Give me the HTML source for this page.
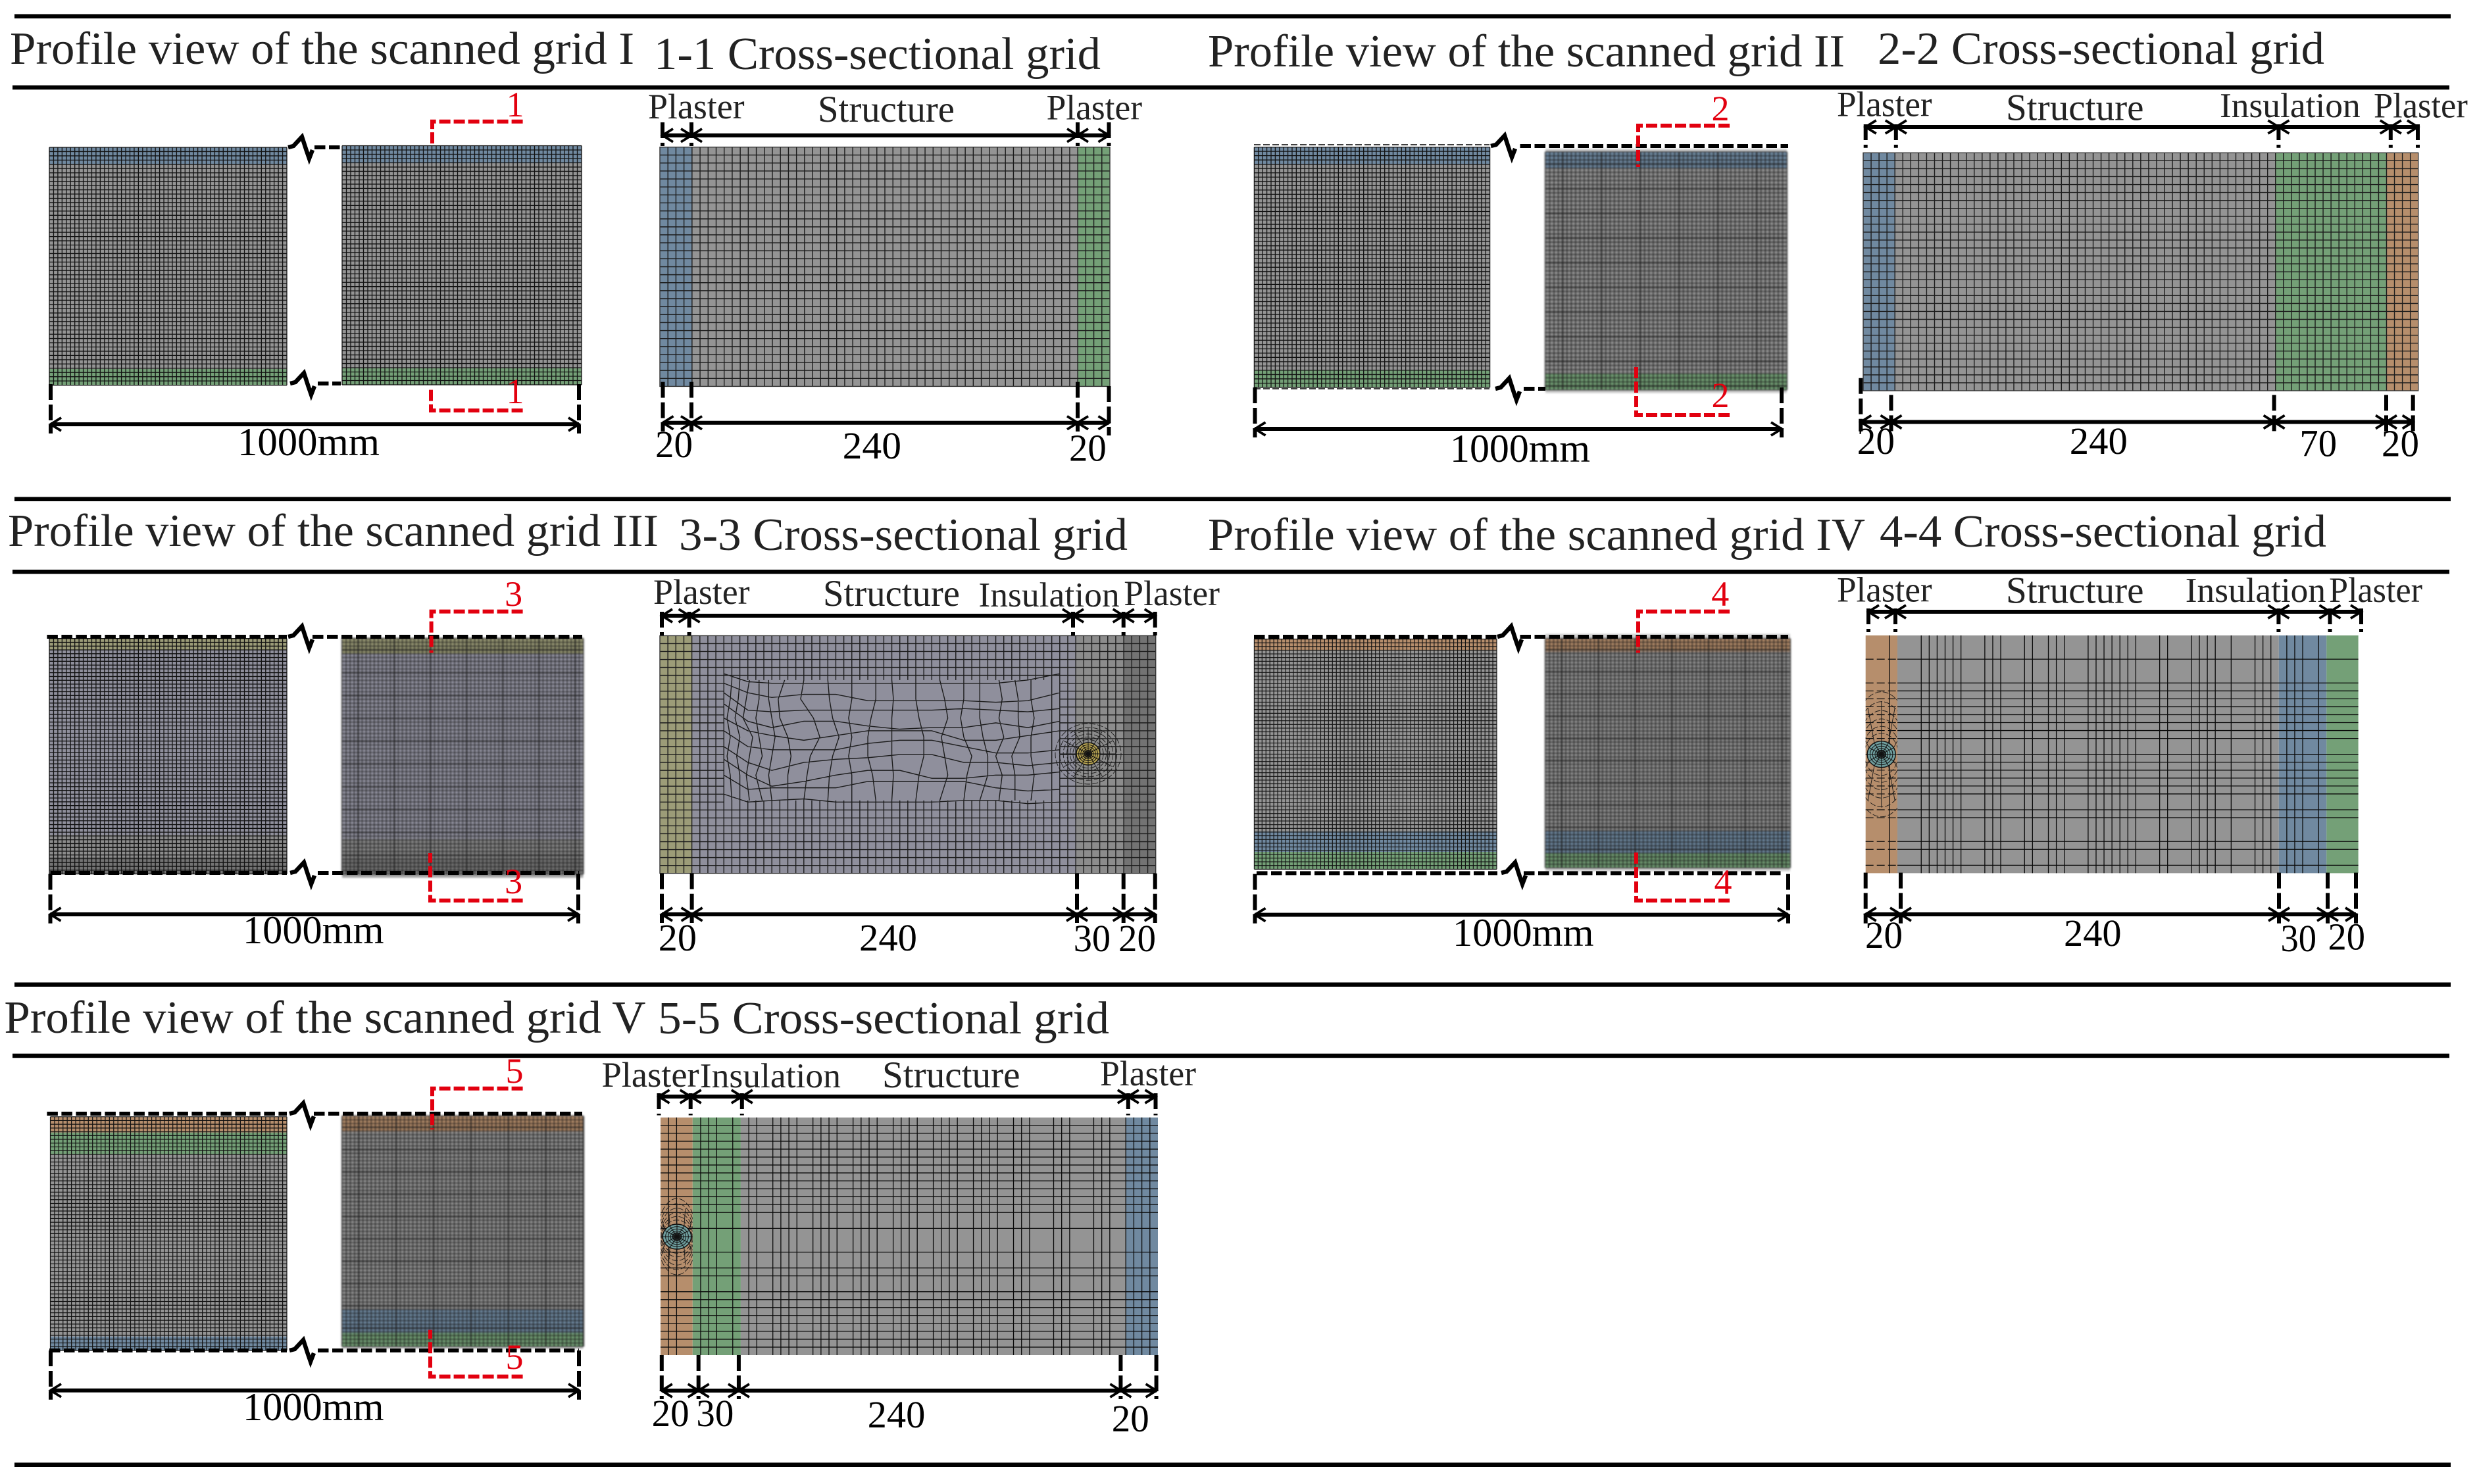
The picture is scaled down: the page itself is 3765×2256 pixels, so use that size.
<!DOCTYPE html>
<html lang="en">
<head>
<meta charset="utf-8">
<title>Scanned grid profile views and cross-sectional grids</title>
<style>
html,body{margin:0;padding:0;background:#fff;}
svg{display:block;}
.t{font-family:"Liberation Serif",serif;fill:#222;}
.n{font-family:"Liberation Serif",serif;fill:#000;}
.r{font-family:"Liberation Serif",serif;fill:#e2000f;text-anchor:middle;font-size:54px;}
</style>
</head>
<body>
<svg id="figure" width="3765" height="2256" viewBox="0 0 3765 2256">
<defs>
<filter id="soft" x="-5%" y="-5%" width="110%" height="110%"><feGaussianBlur stdDeviation="1.3"/></filter>
</defs>
<rect x="0" y="0" width="3765" height="2256" fill="#fff"/>
<g id="meshes"></g>
<g id="annotations"></g>

<g fill="#000">
<rect x="22" y="21.5" width="3703" height="6.5"/>
<rect x="19" y="129.7" width="3704" height="6.5"/>
<rect x="22" y="755.5" width="3703" height="6.5"/>
<rect x="19" y="866" width="3704" height="6.5"/>
<rect x="22" y="1493.5" width="3703" height="6.5"/>
<rect x="19" y="1601.7" width="3704" height="6.5"/>
<rect x="22" y="2223.5" width="3703" height="6.5"/>
</g>

<g font-size="70">
<text class="t" x="15" y="97" textLength="949" lengthAdjust="spacingAndGlyphs">Profile view of the scanned grid I</text>
<text class="t" x="994" y="105" textLength="679" lengthAdjust="spacingAndGlyphs">1-1 Cross-sectional grid</text>
<text class="t" x="1836" y="101" textLength="968" lengthAdjust="spacingAndGlyphs">Profile view of the scanned grid II</text>
<text class="t" x="2854" y="97" textLength="679" lengthAdjust="spacingAndGlyphs">2-2 Cross-sectional grid</text>
<text class="t" x="12" y="830" textLength="989" lengthAdjust="spacingAndGlyphs">Profile view of the scanned grid III</text>
<text class="t" x="1032" y="836" textLength="682" lengthAdjust="spacingAndGlyphs">3-3 Cross-sectional grid</text>
<text class="t" x="1836" y="836" textLength="999" lengthAdjust="spacingAndGlyphs">Profile view of the scanned grid IV</text>
<text class="t" x="2857" y="831" textLength="679" lengthAdjust="spacingAndGlyphs">4-4 Cross-sectional grid</text>
<text class="t" x="6.4" y="1570" textLength="975" lengthAdjust="spacingAndGlyphs">Profile view of the scanned grid V</text>
<text class="t" x="1000" y="1571" textLength="686" lengthAdjust="spacingAndGlyphs">5-5 Cross-sectional grid</text>
</g>

<g>
<text class="t" font-size="54" x="985" y="180" textLength="146.6" lengthAdjust="spacingAndGlyphs">Plaster</text>
<text class="t" font-size="57" x="1243" y="185" textLength="208" lengthAdjust="spacingAndGlyphs">Structure</text>
<text class="t" font-size="54" x="1590.6" y="181.7" textLength="145.4" lengthAdjust="spacingAndGlyphs">Plaster</text>

<text class="t" font-size="54" x="2792" y="176.5" textLength="144.6" lengthAdjust="spacingAndGlyphs">Plaster</text>
<text class="t" font-size="57" x="3049" y="182.5" textLength="209.5" lengthAdjust="spacingAndGlyphs">Structure</text>
<text class="t" font-size="53" x="3374" y="178" textLength="213.7" lengthAdjust="spacingAndGlyphs">Insulation</text>
<text class="t" font-size="54" x="3608" y="178.5" textLength="142.8" lengthAdjust="spacingAndGlyphs">Plaster</text>

<text class="t" font-size="54" x="993" y="918" textLength="146.6" lengthAdjust="spacingAndGlyphs">Plaster</text>
<text class="t" font-size="57" x="1251" y="921" textLength="208" lengthAdjust="spacingAndGlyphs">Structure</text>
<text class="t" font-size="53" x="1487.4" y="922" textLength="214.3" lengthAdjust="spacingAndGlyphs">Insulation</text>
<text class="t" font-size="54" x="1708.3" y="920" textLength="145.7" lengthAdjust="spacingAndGlyphs">Plaster</text>

<text class="t" font-size="54" x="2792" y="914.6" textLength="144.6" lengthAdjust="spacingAndGlyphs">Plaster</text>
<text class="t" font-size="57" x="3049" y="916.5" textLength="209.5" lengthAdjust="spacingAndGlyphs">Structure</text>
<text class="t" font-size="53" x="3321.8" y="915" textLength="213.2" lengthAdjust="spacingAndGlyphs">Insulation</text>
<text class="t" font-size="54" x="3540" y="915" textLength="142" lengthAdjust="spacingAndGlyphs">Plaster</text>

<text class="t" font-size="54" x="914.5" y="1651.8" textLength="148.2" lengthAdjust="spacingAndGlyphs">Plaster</text>
<text class="t" font-size="53" x="1063.8" y="1653" textLength="214.2" lengthAdjust="spacingAndGlyphs">Insulation</text>
<text class="t" font-size="57" x="1341" y="1653" textLength="209.5" lengthAdjust="spacingAndGlyphs">Structure</text>
<text class="t" font-size="54" x="1672" y="1650" textLength="146" lengthAdjust="spacingAndGlyphs">Plaster</text>
</g>

<g font-size="58">
<text class="n" font-size="60" x="361" y="692" textLength="216" lengthAdjust="spacingAndGlyphs">1000mm</text>
<text class="n" font-size="60" x="2204" y="702" textLength="213" lengthAdjust="spacingAndGlyphs">1000mm</text>
<text class="n" font-size="60" x="369" y="1434" textLength="214.5" lengthAdjust="spacingAndGlyphs">1000mm</text>
<text class="n" font-size="60" x="2208" y="1438" textLength="214.5" lengthAdjust="spacingAndGlyphs">1000mm</text>
<text class="n" font-size="60" x="369" y="2159" textLength="214.5" lengthAdjust="spacingAndGlyphs">1000mm</text>

<text class="n" x="996" y="695" textLength="57" lengthAdjust="spacingAndGlyphs">20</text>
<text class="n" x="1280.6" y="697" textLength="89.4" lengthAdjust="spacingAndGlyphs">240</text>
<text class="n" x="1625" y="700.5" textLength="56.7" lengthAdjust="spacingAndGlyphs">20</text>

<text class="n" x="2822.8" y="690" textLength="57.2" lengthAdjust="spacingAndGlyphs">20</text>
<text class="n" x="3145.8" y="690" textLength="88" lengthAdjust="spacingAndGlyphs">240</text>
<text class="n" x="3495.4" y="693.4" textLength="56.6" lengthAdjust="spacingAndGlyphs">70</text>
<text class="n" x="3620" y="693.4" textLength="57" lengthAdjust="spacingAndGlyphs">20</text>

<text class="n" x="1000.8" y="1444.8" textLength="58.2" lengthAdjust="spacingAndGlyphs">20</text>
<text class="n" x="1306" y="1444.8" textLength="88" lengthAdjust="spacingAndGlyphs">240</text>
<text class="n" x="1631.7" y="1446" textLength="56.3" lengthAdjust="spacingAndGlyphs">30</text>
<text class="n" x="1700" y="1446" textLength="57" lengthAdjust="spacingAndGlyphs">20</text>

<text class="n" x="2835" y="1441" textLength="57" lengthAdjust="spacingAndGlyphs">20</text>
<text class="n" x="3137" y="1438" textLength="87.6" lengthAdjust="spacingAndGlyphs">240</text>
<text class="n" x="3466.5" y="1446" textLength="54.5" lengthAdjust="spacingAndGlyphs">30</text>
<text class="n" x="3538.5" y="1443.6" textLength="56.5" lengthAdjust="spacingAndGlyphs">20</text>

<text class="n" x="990.6" y="2168" textLength="57" lengthAdjust="spacingAndGlyphs">20</text>
<text class="n" x="1058.4" y="2168" textLength="56.9" lengthAdjust="spacingAndGlyphs">30</text>
<text class="n" x="1318.6" y="2170" textLength="87.8" lengthAdjust="spacingAndGlyphs">240</text>
<text class="n" x="1689.8" y="2176" textLength="57" lengthAdjust="spacingAndGlyphs">20</text>
</g>

<g>
<text class="r" x="783" y="177">1</text>
<text class="r" x="783" y="613">1</text>
<text class="r" x="2615" y="183">2</text>
<text class="r" x="2615" y="619">2</text>
<text class="r" x="780.6" y="921">3</text>
<text class="r" x="780.6" y="1358">3</text>
<text class="r" x="2614.8" y="921">4</text>
<text class="r" x="2619" y="1359">4</text>
<text class="r" x="782" y="1646">5</text>
<text class="r" x="782" y="2081">5</text>
</g>
</svg>

<script>
/* Material colours */
const BLUE = '#7089a0';
const GREEN = '#74a077';
const BROWN = '#b68e6c';
const GREY = '#949494';
const OLIVE = '#9c9c78';
const PURPLE = '#8f8f9c';
const DARKGREY = '#737373';
const MIDGREY = '#8c8c8c';
const LIGHT = '#cfcfcf';

/* Cross-section layer thicknesses in mm */
const sec1Thick = [20, 240, 20];
const sec2Thick = [20, 240, 70, 20];
const sec3Thick = [20, 240, 30, 20];
const sec4Thick = [20, 240, 30, 20];
const sec5Thick = [20, 30, 240, 20];

/* Mesh line stations in mm, section 4-4 */
const sec4Cols = [15, 35, 40, 45, 50, 55, 60, 75, 80, 85, 100, 105, 115, 120, 125, 140, 145, 150, 155, 160, 165, 170, 185, 190, 205, 210, 215, 220, 230, 245, 250, 255, 265, 270, 275, 285];
const sec4Rows = [15, 30, 35, 40, 45, 50, 55, 60, 65, 75, 80, 85, 90, 95, 100, 110, 115, 130, 135, 145];

/* Mesh line stations in mm, section 5-5 */
const sec5Cols = [5, 10, 25, 30, 35, 45, 55, 60, 70, 75, 80, 85, 95, 100, 105, 110, 120, 125, 130, 135, 145, 150, 155, 160, 170, 175, 180, 185, 195, 200, 205, 210, 220, 225, 230, 245, 250, 255, 270, 275, 280, 290, 295, 300, 305];
const sec5Rows = [5, 10, 15, 20, 25, 30, 35, 40, 45, 50, 55, 60, 70, 85, 95, 100, 110, 115, 120, 125, 130, 135, 140, 145];

/* Free mesh of section 3-3: flowing row lines, mm depth at each station */
const flowStations = [40, 55, 70, 90, 110, 130, 150, 170, 190, 210, 230, 250];
const flowRowA = [24, 29, 30, 30, 30, 30, 30, 30, 30, 30, 28, 24];
const flowRowB = [30, 36, 39, 37, 37, 41, 41, 41, 41, 42, 41, 36];
const flowRowC = [36, 47, 48, 47, 47, 47, 47, 47, 46, 47, 48, 46];
const flowRowD = [43, 54, 58, 54, 54, 57, 59, 58, 58, 55, 58, 54];
const flowRowE = [52, 60, 63, 66, 63, 60, 60, 60, 66, 66, 63, 60];
const flowRowF = [60, 70, 72, 72, 72, 68, 66, 66, 70, 74, 74, 72];
const flowRowG = [70, 80, 85, 80, 78, 77, 75, 75, 80, 80, 82, 80];
const flowRowH = [78, 88, 95, 92, 88, 85, 85, 90, 90, 88, 88, 86];
const flowRowI = [88, 97, 96, 96, 96, 92, 92, 92, 92, 96, 98, 97];
const flowRowJ = [100, 105, 104, 103, 105, 105, 105, 105, 104, 104, 106, 105];
const flowRows = [flowRowA, flowRowB, flowRowC, flowRowD, flowRowE, flowRowF, flowRowG, flowRowH, flowRowI, flowRowJ];

/* Free mesh of section 3-3: flowing column lines, mm position at each depth */
const flowDepths = [28, 40, 52, 64, 76, 88, 104];
const flowCols = [
  [45, 44, 42, 44, 42, 44, 45], [50, 49, 47, 50, 48, 50, 50], [56, 54, 52, 58, 56, 54, 56],
  [62, 62, 60, 62, 64, 60, 64], [68, 68, 70, 72, 70, 68, 70], [78, 74, 75, 80, 82, 80, 80],
  [90, 88, 96, 100, 94, 92, 90], [105, 106, 108, 112, 108, 106, 105], [120, 120, 118, 120, 118, 120, 120],
  [135, 135, 132, 130, 130, 133, 135], [145, 146, 145, 145, 145, 146, 145], [160, 160, 162, 165, 165, 162, 160],
  [175, 178, 180, 176, 178, 180, 175], [190, 190, 188, 190, 195, 192, 190], [200, 200, 200, 202, 205, 205, 200],
  [212, 214, 212, 215, 210, 214, 212], [222, 224, 224, 225, 220, 222, 222], [232, 232, 234, 232, 232, 234, 232]
];

/* Profile block band proportions */
const prof1LeftBands = [26, 311, 24.6];
const prof1RightBands = [25.5, 313, 25];
const prof2LeftBands = [26.9, 312.5, 26];
const prof2RightBands = [4.7, 25.7, 312.4, 24.2, 4.6];
const prof3LeftBands = [17.8, 280.5, 34, 25.6];
const prof3RightBands = [23.7, 280.6, 30, 24, 5.5];
const prof4LeftBands = [17.8, 274.7, 31, 26.4];
const prof4RightBands = [7.1, 19.8, 272.8, 34.7, 21.5, 5.1];
const prof5LeftBands = [24.1, 33.7, 276.3, 21.2];
const prof5RightBands = [24.1, 270, 35.7, 20.8, 3.7];

/* Hole mesh rings, as fractions of the hole envelope */
const holeRings = [0.16, 0.3, 0.45, 0.62, 0.8, 1];
const holeSpokes = [0, 30, 60, 90, 120, 150, 180, 210, 240, 270, 300, 330];

const svg = document.getElementById('figure');
const NS = svg.namespaceURI;
const meshLayer = document.getElementById('meshes');
const annoLayer = document.getElementById('annotations');

function draw(parent, tag, name, attrs) {
  const el = document.createElementNS(NS, tag);
  for (const k in attrs) el.setAttribute(k, attrs[k]);
  
  
  parent.appendChild(el);
  return el;
}
function stations(from, to, step) {
  const out = [];
  for (let v = from; v <= to; v += step) out.push(v);
  return out;
}
function sectionScales(box, thick) {
  const total = thick.reduce((a, b) => a + b, 0);
  return {
    x: mm => box.x0 + mm * (box.x1 - box.x0) / total,
    y: mm => box.y0 + mm * (box.y1 - box.y0) / 150
  };
}
function section(name, box, thick, fills) {
  const s = sectionScales(box, thick);
  const g = draw(meshLayer, 'g', name, {});
  let at = 0;
  thick.forEach((t, i) => {
    draw(g, 'rect', name + '-layer', {x: s.x(at), y: box.y0, width: s.x(at + t) - s.x(at), height: box.y1 - box.y0, fill: fills[i]});
    at += t;
  });
  return {g, s, box};
}
function gridPath(sec, name, cols, rows, width, colour) {
  let d = '';
  cols.forEach(c => { d += 'M' + sec.s.x(c) + ' ' + sec.box.y0 + 'V' + sec.box.y1; });
  rows.forEach(r => { d += 'M' + sec.box.x0 + ' ' + sec.s.y(r) + 'H' + sec.box.x1; });
  draw(sec.g, 'path', name, {d, fill: 'none', stroke: colour, 'stroke-width': width});
}
function outline(sec, name, colour) {
  const b = sec.box;
  draw(sec.g, 'rect', name, {x: b.x0, y: b.y0, width: b.x1 - b.x0, height: b.y1 - b.y0, fill: 'none', stroke: colour, 'stroke-width': 1.4});
}
function holeMesh(parent, name, cx, cy, rx, ry, outerX, outerY, fill, clip) {
  const g = draw(parent, 'g', name, {});
  let cid = null;
  if (clip) {
    cid = name + '-clip';
    const cp = draw(g, 'clipPath', name + '-clip-shape', {id: cid});
    draw(cp, 'rect', name + '-clip-rect', {x: clip[0], y: clip[1], width: clip[2], height: clip[3]});
  }
  const env = draw(g, 'g', name + '-envelope', cid ? {'clip-path': 'url(#' + cid + ')'} : {});
  holeRings.forEach(f => {
    draw(env, 'ellipse', name + '-ring', {cx, cy, rx: rx + (outerX - rx) * f, ry: ry + (outerY - ry) * f, fill: 'none', stroke: '#1a1a1a', 'stroke-width': 0.9, 'stroke-dasharray': '9 3'});
  });
  holeSpokes.forEach(a => {
    const r = a * Math.PI / 180;
    draw(env, 'line', name + '-spoke', {x1: cx + rx * Math.cos(r), y1: cy + ry * Math.sin(r), x2: cx + outerX * 0.85 * Math.cos(r), y2: cy + outerY * 0.85 * Math.sin(r), stroke: '#1a1a1a', 'stroke-width': 0.9});
  });
  draw(g, 'ellipse', name + '-core', {cx, cy, rx, ry, fill, stroke: '#111', 'stroke-width': 1.4});
  holeRings.forEach(f => {
    draw(g, 'ellipse', name + '-core-ring', {cx, cy, rx: rx * f, ry: ry * f, fill: 'none', stroke: '#111', 'stroke-width': 1});
  });
  holeSpokes.forEach(a => {
    const r = a * Math.PI / 180;
    draw(g, 'line', name + '-core-spoke', {x1: cx, y1: cy, x2: cx + rx * Math.cos(r), y2: cy + ry * Math.sin(r), stroke: '#111', 'stroke-width': 1});
  });
  draw(g, 'ellipse', name + '-centre', {cx, cy, rx: rx * 0.35, ry: ry * 0.35, fill: '#111', 'fill-opacity': 0.75});
}
function profile(name, x0, x1, y0, y1, bands, fills, rows, cols, opts) {
  const o = opts || {};
  const g = draw(meshLayer, 'g', name, o.blur ? {filter: 'url(#soft)'} : {});
  const total = bands.reduce((a, b) => a + b, 0);
  const h = y1 - y0;
  let at = 0;
  bands.forEach((b, i) => {
    draw(g, 'rect', name + '-band', {x: x0, y: y0 + at / total * h, width: x1 - x0, height: b / total * h, fill: fills[i]});
    at += b;
  });
  const my0 = y0 + (o.insetTop || 0);
  const my1 = y1 - (o.insetBottom || 0);
  let d = '';
  let major = '';
  for (let i = 0; i <= cols; i++) {
    const x = x0 + (x1 - x0) * i / cols;
    d += 'M' + x + ' ' + my0 + 'V' + my1;
    if (o.blur && i % 9 === 4) major += 'M' + x + ' ' + my0 + 'V' + my1;
  }
  for (let j = 0; j <= rows; j++) {
    const y = my0 + (my1 - my0) * j / rows;
    d += 'M' + x0 + ' ' + y + 'H' + x1;
    if (o.blur && j % 6 === 3) major += 'M' + x0 + ' ' + y + 'H' + x1;
  }
  draw(g, 'path', name + '-mesh', {d, fill: 'none', stroke: o.blur ? '#222' : '#111', 'stroke-width': o.blur ? 1.9 : (o.thin || 1.3)});
  if (o.blur) draw(g, 'path', name + '-mesh-bands', {d: major, fill: 'none', stroke: '#222', 'stroke-width': 3.2, 'stroke-opacity': 0.7});
}

/* ---------- Profile blocks ---------- */
profile('profile-1-left', 75, 436, 224, 585.6, prof1LeftBands, [BLUE, GREY, GREEN], 56, 56);
profile('profile-1-right', 520, 884, 221.5, 585, prof1RightBands, [BLUE, GREY, GREEN], 56, 56);
profile('profile-2-left', 1906.4, 2264.6, 223.6, 589, prof2LeftBands, [BLUE, GREY, GREEN], 56, 56);
profile('profile-2-right', 2349, 2716, 226, 597.6, prof2RightBands, [LIGHT, BLUE, GREY, GREEN, LIGHT], 58, 56, {blur: true, insetTop: 4.7, insetBottom: 4.6});
profile('profile-3-left', 75, 436, 970.7, 1328.6, prof3LeftBands, [OLIVE, PURPLE, MIDGREY, DARKGREY], 62, 56);
profile('profile-3-right', 520, 886.5, 970.7, 1334.5, prof3RightBands, [OLIVE, '#9a9aa8', '#8c8c8c', '#787878', '#a8a8a8'], 62, 60, {blur: true, insetBottom: 5.5});
profile('profile-4-left', 1906.4, 2275, 971.5, 1321.4, prof4LeftBands, [BROWN, GREY, BLUE, GREEN], 62, 62, {thin: 1.15});
profile('profile-4-right', 2349, 2721, 963.6, 1324.6, prof4RightBands, [LIGHT, BROWN, GREY, BLUE, GREEN, LIGHT], 62, 60, {blur: true, insetTop: 7.1, insetBottom: 5.1});
profile('profile-5-left', 76.5, 436, 1697.7, 2053, prof5LeftBands, [BROWN, GREEN, GREY, BLUE], 62, 56, {thin: 1.2});
profile('profile-5-right', 520, 886.5, 1696.7, 2051, prof5RightBands, [BROWN, GREY, BLUE, GREEN, LIGHT], 62, 58, {blur: true, insetBottom: 3.7});

/* ---------- Section 1-1 ---------- */
const sec1 = section('section-1', {x0: 1003, x1: 1687, y0: 223.6, y1: 587.4}, sec1Thick, [BLUE, GREY, GREEN]);
gridPath(sec1, 'section-1-mesh', stations(5, 275, 5), stations(5, 145, 5), 1.4, '#1c1c1c');
outline(sec1, 'section-1-outline', '#333');

/* ---------- Section 2-2 ---------- */
const sec2 = section('section-2', {x0: 2832, x1: 3675.7, y0: 232.3, y1: 594}, sec2Thick, [BLUE, GREY, GREEN, BROWN]);
gridPath(sec2, 'section-2-mesh', stations(5, 345, 5), stations(5, 145, 5), 1.4, '#1c1c1c');
outline(sec2, 'section-2-outline', '#333');

/* ---------- Section 3-3 ---------- */
const sec3 = section('section-3', {x0: 1003, x1: 1756.7, y0: 966.4, y1: 1327.7}, sec3Thick, [OLIVE, PURPLE, MIDGREY, DARKGREY]);
(function () {
  const s = sec3.s;
  let d = '';
  stations(5, 40, 5).concat(stations(245, 305, 5)).forEach(c => { d += 'M' + s.x(c) + ' ' + s.y(0) + 'V' + s.y(150); });
  stations(45, 240, 5).forEach(c => { d += 'M' + s.x(c) + ' ' + s.y(0) + 'V' + s.y(28) + 'M' + s.x(c) + ' ' + s.y(104) + 'V' + s.y(150); });
  stations(5, 145, 5).forEach(r => {
    d += 'M' + s.x(0) + ' ' + s.y(r) + 'H' + s.x(40) + 'M' + s.x(250) + ' ' + s.y(r) + 'H' + s.x(310);
    if (r <= 25 || r >= 110) d += 'M' + s.x(40) + ' ' + s.y(r) + 'H' + s.x(250);
  });
  flowRows.forEach(row => {
    row.forEach((v, i) => { d += (i ? 'L' : 'M') + s.x(flowStations[i]) + ' ' + s.y(v); });
  });
  flowCols.forEach(col => {
    col.forEach((v, i) => { d += (i ? 'L' : 'M') + s.x(v) + ' ' + s.y(flowDepths[i]); });
  });
  draw(sec3.g, 'path', 'section-3-free-mesh', {d, fill: 'none', stroke: '#1c1c1c', 'stroke-width': 1.4});
})();
outline(sec3, 'section-3-outline', '#333');
holeMesh(sec3.g, 'section-3-hole', 1654, 1146, 18, 17, 50, 46, '#b9a552', null);

/* ---------- Section 4-4 ---------- */
const sec4 = section('section-4', {x0: 2835.7, x1: 3584.6, y0: 966, y1: 1327.4}, sec4Thick, [BROWN, GREY, BLUE, GREEN]);
(function () {
  const s = sec4.s;
  let d = '';
  sec4Cols.forEach(c => { d += 'M' + s.x(c) + ' ' + s.y(0) + 'V' + s.y(150); });
  sec4Rows.forEach(r => { d += 'M' + s.x(20) + ' ' + s.y(r) + 'H' + s.x(310); });
  draw(sec4.g, 'path', 'section-4-mesh', {d, fill: 'none', stroke: '#0a0a0a', 'stroke-width': 1.3});
  let p = '';
  sec4Rows.forEach(r => { p += 'M' + s.x(0) + ' ' + s.y(r) + 'H' + s.x(20); });
  draw(sec4.g, 'path', 'section-4-plaster-mesh', {d: p, fill: 'none', stroke: '#0a0a0a', 'stroke-width': 1.2, 'stroke-dasharray': '12 5'});
})();
holeMesh(sec4.g, 'section-4-hole', 2859.7, 1146.7, 21.5, 20, 48, 95, '#6f9e9e', [2835.7, 966, 48.3, 361.4]);

/* ---------- Section 5-5 ---------- */
const sec5 = section('section-5', {x0: 1004, x1: 1760, y0: 1698.8, y1: 2060}, sec5Thick, [BROWN, GREEN, GREY, BLUE]);
gridPath(sec5, 'section-5-mesh', sec5Cols, sec5Rows, 1.3, '#0a0a0a');
holeMesh(sec5.g, 'section-5-hole', 1029, 1880, 21.7, 19, 30, 58, '#6f9e9e', [1004, 1698.8, 48.8, 361.2]);

/* ---------- Annotations ---------- */
function dashLine(name, x1, y1, x2, y2, width, dash, colour) {
  draw(annoLayer, 'line', name, {x1, y1, x2, y2, stroke: colour || '#000', 'stroke-width': width, 'stroke-dasharray': dash});
}
function tick(name, x, y0, y1) {
  dashLine(name, x, y0, x, y1, 6, '24 7');
}
function dimension(name, y) {
  const xs = Array.prototype.slice.call(arguments, 2);
  const g = draw(annoLayer, 'g', name, {fill: 'none', stroke: '#000'});
  draw(g, 'line', name + '-line', {x1: xs[0], y1: y, x2: xs[xs.length - 1], y2: y, 'stroke-width': 6});
  xs.forEach((x, i) => {
    if (i > 0) draw(g, 'path', name + '-arrow', {d: 'M' + (x - 16) + ' ' + (y - 10) + 'L' + x + ' ' + y + 'L' + (x - 16) + ' ' + (y + 10), 'stroke-width': 3.8});
    if (i < xs.length - 1) draw(g, 'path', name + '-arrow', {d: 'M' + (x + 16) + ' ' + (y - 10) + 'L' + x + ' ' + y + 'L' + (x + 16) + ' ' + (y + 10), 'stroke-width': 3.8});
  });
}
function breakMark(name, x, y) {
  draw(annoLayer, 'path', name, {
    d: 'M' + x + ' ' + y + 'L' + (x + 8) + ' ' + (y - 2) + 'L' + (x + 21) + ' ' + (y - 16) + 'L' + (x + 27.5) + ' ' + (y + 4) + 'L' + (x + 32) + ' ' + (y + 17) + 'L' + (x + 37) + ' ' + (y + 4),
    fill: 'none', stroke: '#000', 'stroke-width': 6.5
  });
}
function cutMark(name, xv, yh, xEnd, yEnd) {
  draw(annoLayer, 'path', name, {
    d: 'M' + xEnd + ' ' + yh + 'H' + xv + 'V' + yEnd,
    fill: 'none', stroke: '#e2000f', 'stroke-width': 6, 'stroke-dasharray': '17 5'
  });
}
function overallDim(name, xa, xb, yTick0, yTick1, yArrow) {
  tick(name + '-left-tick', xa, yTick0, yTick1);
  tick(name + '-right-tick', xb, yTick0, yTick1);
  dimension(name, yArrow, xa, xb);
}

/* Panel I */
breakMark('break-1-top', 438, 224);
breakMark('break-1-bottom', 441, 583);
dashLine('gap-dash-1-top', 478, 224, 518, 224, 6, '16.5 5.5');
dashLine('gap-dash-1-bottom', 483, 583, 518, 583, 6, '16.5 5.5');
overallDim('overall-dim-1', 77, 880, 584, 659, 645);
cutMark('cut-1-top', 657, 184.7, 794.6, 221.5);
cutMark('cut-1-bottom', 655, 624, 794.6, 589);

/* Panel II */
breakMark('break-2-top', 2266, 222);
breakMark('break-2-bottom', 2273, 591);
dashLine('thin-dash-2-top', 1906, 220, 2264, 220, 1.6, '10 4');
dashLine('thin-dash-2-bottom', 1906, 591, 2264, 591, 1.6, '10 4');
dashLine('long-dash-2-top', 2310.5, 222, 2718, 222, 6, '16.5 5.5');
dashLine('gap-dash-2-bottom', 2316, 591, 2349, 591, 6, '16.5 5.5');
overallDim('overall-dim-2', 1907.5, 2708, 589, 665, 652);
cutMark('cut-2-top', 2490, 191, 2629, 254);
cutMark('cut-2-bottom', 2487, 631, 2629, 558);

/* Panel III */
breakMark('break-3-top', 438, 968);
breakMark('break-3-bottom', 441, 1327);
dashLine('long-dash-3-top-left', 71.4, 968, 436, 968, 6, '16.5 5.5');
dashLine('long-dash-3-top-right', 475, 968, 885, 968, 6, '16.5 5.5');
dashLine('long-dash-3-bottom-left', 76.5, 1327, 436, 1327, 6, '16.5 5.5');
dashLine('long-dash-3-bottom-right', 483, 1327, 880, 1327, 6, '16.5 5.5');
overallDim('overall-dim-3', 76.5, 879, 1328.6, 1403.7, 1390);
cutMark('cut-3-top', 655.6, 929.6, 794.6, 992.5);
cutMark('cut-3-bottom', 654, 1369, 794.6, 1297);

/* Panel IV */
breakMark('break-4-top', 2276, 968);
breakMark('break-4-bottom', 2282, 1327);
dashLine('long-dash-4-top-left', 1906, 968, 2276, 968, 6, '16.5 5.5');
dashLine('long-dash-4-top-right', 2310.5, 968, 2718, 968, 6, '16.5 5.5');
dashLine('long-dash-4-bottom-left', 1910, 1327.4, 2276, 1327.4, 6, '16.5 5.5');
dashLine('long-dash-4-bottom-right', 2316, 1327.4, 2712, 1327.4, 6, '16.5 5.5');
overallDim('overall-dim-4', 1907.5, 2718, 1328.6, 1403.7, 1390.6);
cutMark('cut-4-top', 2490, 929.6, 2629, 992.5);
cutMark('cut-4-bottom', 2487, 1369, 2629, 1296);

/* Panel V */
breakMark('break-5-top', 440, 1693);
breakMark('break-5-bottom', 440, 2053);
dashLine('long-dash-5-top-left', 71.4, 1693, 436, 1693, 6, '16.5 5.5');
dashLine('long-dash-5-top-right', 477, 1693, 885, 1693, 6, '16.5 5.5');
dashLine('long-dash-5-bottom-left', 75, 2053, 436, 2053, 6, '16.5 5.5');
dashLine('long-dash-5-bottom-right', 483, 2053, 880, 2053, 6, '16.5 5.5');
overallDim('overall-dim-5', 77, 880, 2053, 2127.8, 2113.8);
cutMark('cut-5-top', 657, 1654.8, 794.6, 1717);
cutMark('cut-5-bottom', 654, 2092.6, 794.6, 2021.7);

/* Section 1-1 dimensions */
[1007, 1051, 1638, 1685.5].forEach(x => { tick('section-1-top-tick', x, 186, 222); });
dimension('section-1-top-dim', 205.8, 1007, 1051, 1638, 1685.5);
[1007.5, 1051, 1638].forEach(x => { tick('section-1-bottom-tick', x, 580.6, 656); });
tick('section-1-bottom-tick', 1685.5, 587, 662);
dimension('section-1-bottom-dim', 642.7, 1007.5, 1051, 1638, 1685.5);

/* Section 2-2 dimensions */
[2835.7, 2881.8, 3463.4, 3633.8, 3675].forEach(x => { tick('section-2-top-tick', x, 189, 224.8); });
dimension('section-2-top-dim', 193, 2835.7, 2881.8, 3463.4, 3633.8, 3675);
tick('section-2-bottom-tick', 2828.3, 574.7, 655.8);
[2874.5, 3456.6, 3627, 3667.7].forEach(x => { tick('section-2-bottom-tick', x, 600.4, 655.8); });
dimension('section-2-bottom-dim', 641.5, 2828.3, 2874.5, 3456.6, 3627, 3667.7);

/* Section 3-3 dimensions */
[1006, 1047.6, 1631, 1707.7, 1755.7].forEach(x => { tick('section-3-top-tick', x, 930, 966); });
dimension('section-3-top-dim', 936, 1006, 1047.6, 1631, 1707.7, 1755.7);
[1006, 1051.6, 1637, 1707.7, 1755.7].forEach(x => { tick('section-3-bottom-tick', x, 1327.7, 1403); });
dimension('section-3-bottom-dim', 1390, 1006, 1051.6, 1637, 1707.7, 1755.7);

/* Section 4-4 dimensions */
[2840, 2881, 3463.4, 3541.5, 3589].forEach(x => { tick('section-4-top-tick', x, 925, 961); });
dimension('section-4-top-dim', 930, 2840, 2881, 3463.4, 3541.5, 3589);
[2835.7, 2889, 3464, 3538, 3581].forEach(x => { tick('section-4-bottom-tick', x, 1326.6, 1403.7); });
dimension('section-4-bottom-dim', 1390, 2835.7, 2889, 3464, 3538, 3581);

/* Section 5-5 dimensions */
[1001.5, 1049.7, 1127.8, 1714.8, 1756.5].forEach(x => { tick('section-5-top-tick', x, 1662, 1695.5); });
dimension('section-5-top-dim', 1667, 1001.5, 1049.7, 1127.8, 1714.8, 1756.5);
[1005.8, 1061.7, 1122.9, 1703.4, 1757.6].forEach(x => { tick('section-5-bottom-tick', x, 2060, 2127); });
dimension('section-5-bottom-dim', 2114, 1005.8, 1061.7, 1122.9, 1703.4, 1757.6);
</script>
</body>
</html>
